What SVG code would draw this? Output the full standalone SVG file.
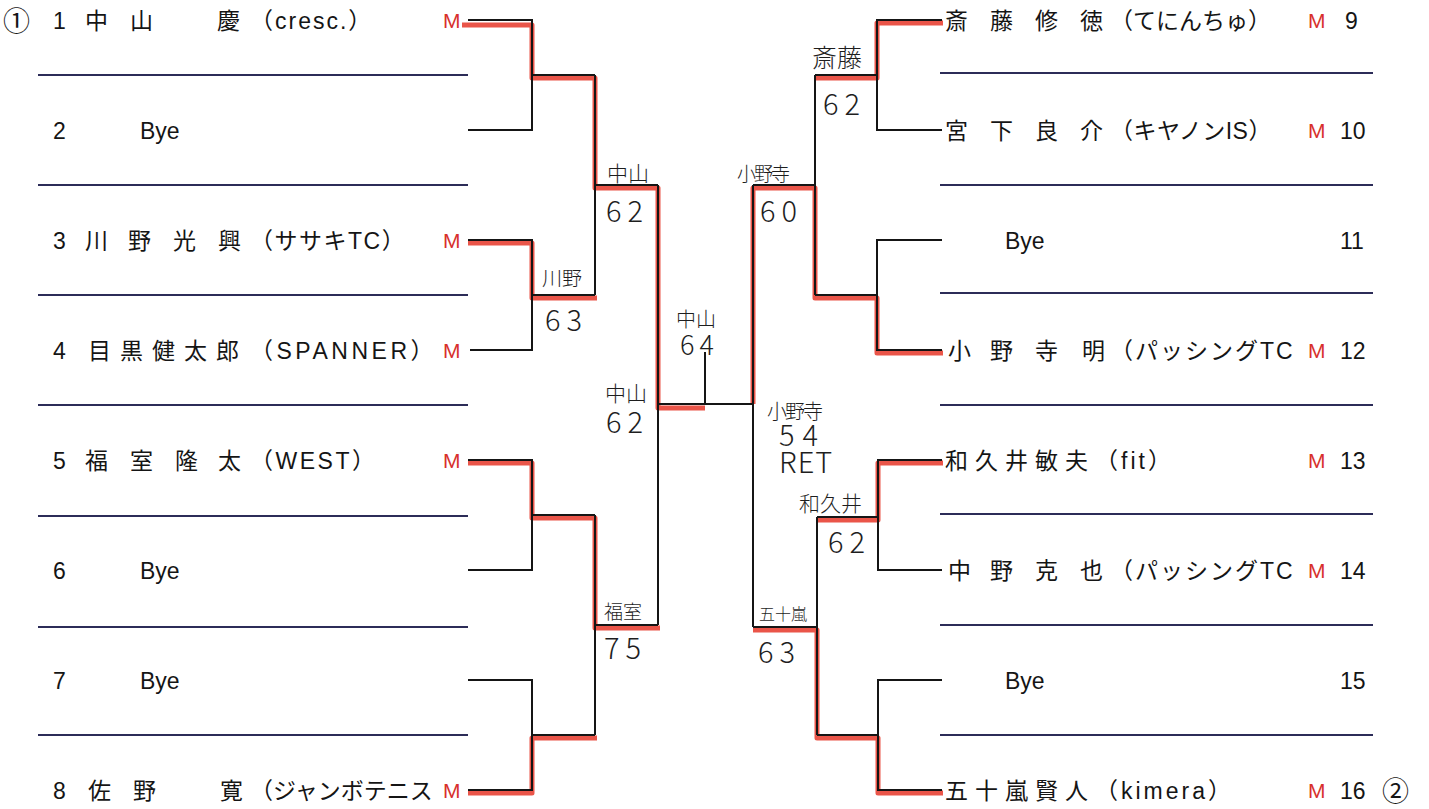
<svg xmlns="http://www.w3.org/2000/svg" width="1429" height="809" viewBox="0 0 1429 809">
<defs>
<style>
.t{font-family:"Liberation Sans","Noto Sans CJK JP",sans-serif;font-size:23px;fill:#151515}
.m{font-family:"Liberation Sans",sans-serif;font-size:21px;fill:#d8302c}
.c{font-family:"Noto Sans CJK JP","DejaVu Sans",sans-serif;font-size:27px;fill:#151515}
.h{font-family:"Noto Sans CJK JP","Liberation Sans",sans-serif;font-weight:300;fill:#1e1e1e}
.hs{font-size:29px;letter-spacing:6px}
.sep{stroke:#2c2c58;stroke-width:2;fill:none}
.bk{stroke:#151515;stroke-width:2;fill:none}
.rd{stroke:#e8463a;stroke-width:5;fill:none;stroke-linejoin:round;opacity:0.92}
</style>
</defs>
<rect width="1429" height="809" fill="#ffffff"/>

<g id="separators">
<path class="sep" d="M38,75H468M38,185H468M38,295H468M38,405H468M38,516H468M38,627H468M38,735H468"/>
<path class="sep" d="M940,73H1373M940,185H1373M940,293H1373M940,405H1373M940,514H1373M940,625H1373M940,735H1373"/>
</g>

<g id="connectors">
<path class="rd" d="M462,25H532V78H595V188H658V408H705"/>
<path class="rd" d="M468,243H532V298H597"/>
<path class="rd" d="M468,463H532V518H595V628H660"/>
<path class="rd" d="M468,793H532V738H597"/>
<path class="rd" d="M943,23H877V78H815"/>
<path class="rd" d="M943,353H877V298H815V188H753V404"/>
<path class="rd" d="M943,463H878V520H817"/>
<path class="rd" d="M943,793H878V738H817V630H753"/>

<path class="bk" d="M468,20H532V130H468M532,75H595"/>
<path class="bk" d="M468,240H532V350H470M532,295H595"/>
<path class="bk" d="M595,75V295M595,185H658"/>
<path class="bk" d="M468,460H532V570H468M532,515H595"/>
<path class="bk" d="M468,680H532V790H468M532,735H595"/>
<path class="bk" d="M595,515V735M595,625H658"/>
<path class="bk" d="M658,185V625M658,404H753M705,352V404M753,185V627"/>
<path class="bk" d="M942,20H877V130H942M877,75H815"/>
<path class="bk" d="M942,240H877V350H942M877,295H815"/>
<path class="bk" d="M815,75V295M815,185H753"/>
<path class="bk" d="M942,460H878V570H942M878,517H817"/>
<path class="bk" d="M942,680H878V790H942M878,735H817"/>
<path class="bk" d="M817,517V735M817,627H753"/>
</g>

<g id="p1"><text class="c" x="3" y="31">①</text><text class="t" y="29"><tspan x="53">1</tspan><tspan x="85">中</tspan><tspan x="130">山</tspan><tspan x="217">慶</tspan><tspan x="250" letter-spacing="2">（cresc.）</tspan></text><text class="m" x="443" y="28">M</text></g>
<g id="p2"><text class="t" y="139"><tspan x="53">2</tspan><tspan x="140">Bye</tspan></text></g>
<g id="p3"><text class="t" y="249"><tspan x="53">3</tspan><tspan x="85">川</tspan><tspan x="128">野</tspan><tspan x="173">光</tspan><tspan x="218">興</tspan><tspan x="250" letter-spacing="1.5">（ササキTC）</tspan></text><text class="m" x="443" y="248">M</text></g>
<g id="p4"><text class="t" y="359"><tspan x="53">4</tspan><tspan x="88" letter-spacing="9">目黒健太郎</tspan><tspan x="250" letter-spacing="3.5">（SPANNER）</tspan></text><text class="m" x="443" y="358">M</text></g>
<g id="p5"><text class="t" y="469"><tspan x="53">5</tspan><tspan x="85">福</tspan><tspan x="130">室</tspan><tspan x="175">隆</tspan><tspan x="218">太</tspan><tspan x="250" letter-spacing="2.5">（WEST）</tspan></text><text class="m" x="443" y="468">M</text></g>
<g id="p6"><text class="t" y="579"><tspan x="53">6</tspan><tspan x="140">Bye</tspan></text></g>
<g id="p7"><text class="t" y="689"><tspan x="53">7</tspan><tspan x="140">Bye</tspan></text></g>
<g id="p8"><text class="t" y="799"><tspan x="53">8</tspan><tspan x="88">佐</tspan><tspan x="133">野</tspan><tspan x="220">寛</tspan><tspan x="250">（ジャンボテニス</tspan></text><text class="m" x="443" y="798">M</text></g>

<g id="p9"><text class="t" y="29"><tspan x="945">斎</tspan><tspan x="990">藤</tspan><tspan x="1035">修</tspan><tspan x="1080">徳</tspan><tspan x="1110">（てにんちゅ）</tspan><tspan x="1345">9</tspan></text><text class="m" x="1308" y="28">M</text></g>
<g id="p10"><text class="t" y="139"><tspan x="945">宮</tspan><tspan x="990">下</tspan><tspan x="1035">良</tspan><tspan x="1080">介</tspan><tspan x="1110" letter-spacing="0.5">（キヤノンIS）</tspan><tspan x="1340">10</tspan></text><text class="m" x="1308" y="138">M</text></g>
<g id="p11"><text class="t" y="249"><tspan x="1005">Bye</tspan><tspan x="1340">11</tspan></text></g>
<g id="p12"><text class="t" y="359"><tspan x="948">小</tspan><tspan x="990">野</tspan><tspan x="1035">寺</tspan><tspan x="1082">明</tspan><tspan x="1110" letter-spacing="2">（パッシングTC</tspan></text><text class="t" x="1340" y="359">12</text><text class="m" x="1308" y="358">M</text></g>
<g id="p13"><text class="t" y="469"><tspan x="945" letter-spacing="7">和久井敏夫</tspan><tspan x="1095" letter-spacing="3">（fit）</tspan><tspan x="1340">13</tspan></text><text class="m" x="1308" y="468">M</text></g>
<g id="p14"><text class="t" y="579"><tspan x="948">中</tspan><tspan x="990">野</tspan><tspan x="1035">克</tspan><tspan x="1080">也</tspan><tspan x="1110" letter-spacing="2">（パッシングTC</tspan></text><text class="t" x="1340" y="579">14</text><text class="m" x="1308" y="578">M</text></g>
<g id="p15"><text class="t" y="689"><tspan x="1005">Bye</tspan><tspan x="1340">15</tspan></text></g>
<g id="p16"><text class="t" y="799"><tspan x="945" letter-spacing="7">五十嵐賢人</tspan><tspan x="1095" letter-spacing="3">（kimera）</tspan><tspan x="1340">16</tspan></text><text class="c" x="1382" y="801">②</text><text class="m" x="1308" y="798">M</text></g>

<g id="results">
<text class="h" x="607" y="181" font-size="21">中山</text>
<text class="h hs" x="606" y="222">62</text>
<text class="h" x="542" y="286" font-size="20">川野</text>
<text class="h hs" x="545" y="331">63</text>
<text class="h" x="676" y="327" font-size="20">中山<tspan x="680" dy="28" font-size="27" letter-spacing="5">64</tspan></text>
<text class="h" x="605" y="401" font-size="21">中山</text>
<text class="h hs" x="606" y="433">62</text>
<text class="h" x="604" y="619" font-size="19">福室</text>
<text class="h hs" x="604" y="659">75</text>
<text class="h" x="812" y="67" font-size="25">斎藤</text>
<text class="h hs" x="823" y="115">62</text>
<text class="h" x="737" y="181" font-size="19" letter-spacing="-2">小野寺</text>
<text class="h hs" x="760" y="222">60</text>
<text class="h" x="767" y="419" font-size="20" letter-spacing="-2">小野寺<tspan x="779" dy="27" font-size="29" letter-spacing="8">54</tspan><tspan x="779" dy="27" font-size="29" letter-spacing="1">RET</tspan></text>
<text class="h" x="799" y="511" font-size="21">和久井</text>
<text class="h hs" x="828" y="553">62</text>
<text class="h" x="759" y="620" font-size="16">五十嵐</text>
<text class="h hs" x="758" y="663">63</text>
</g>
</svg>
